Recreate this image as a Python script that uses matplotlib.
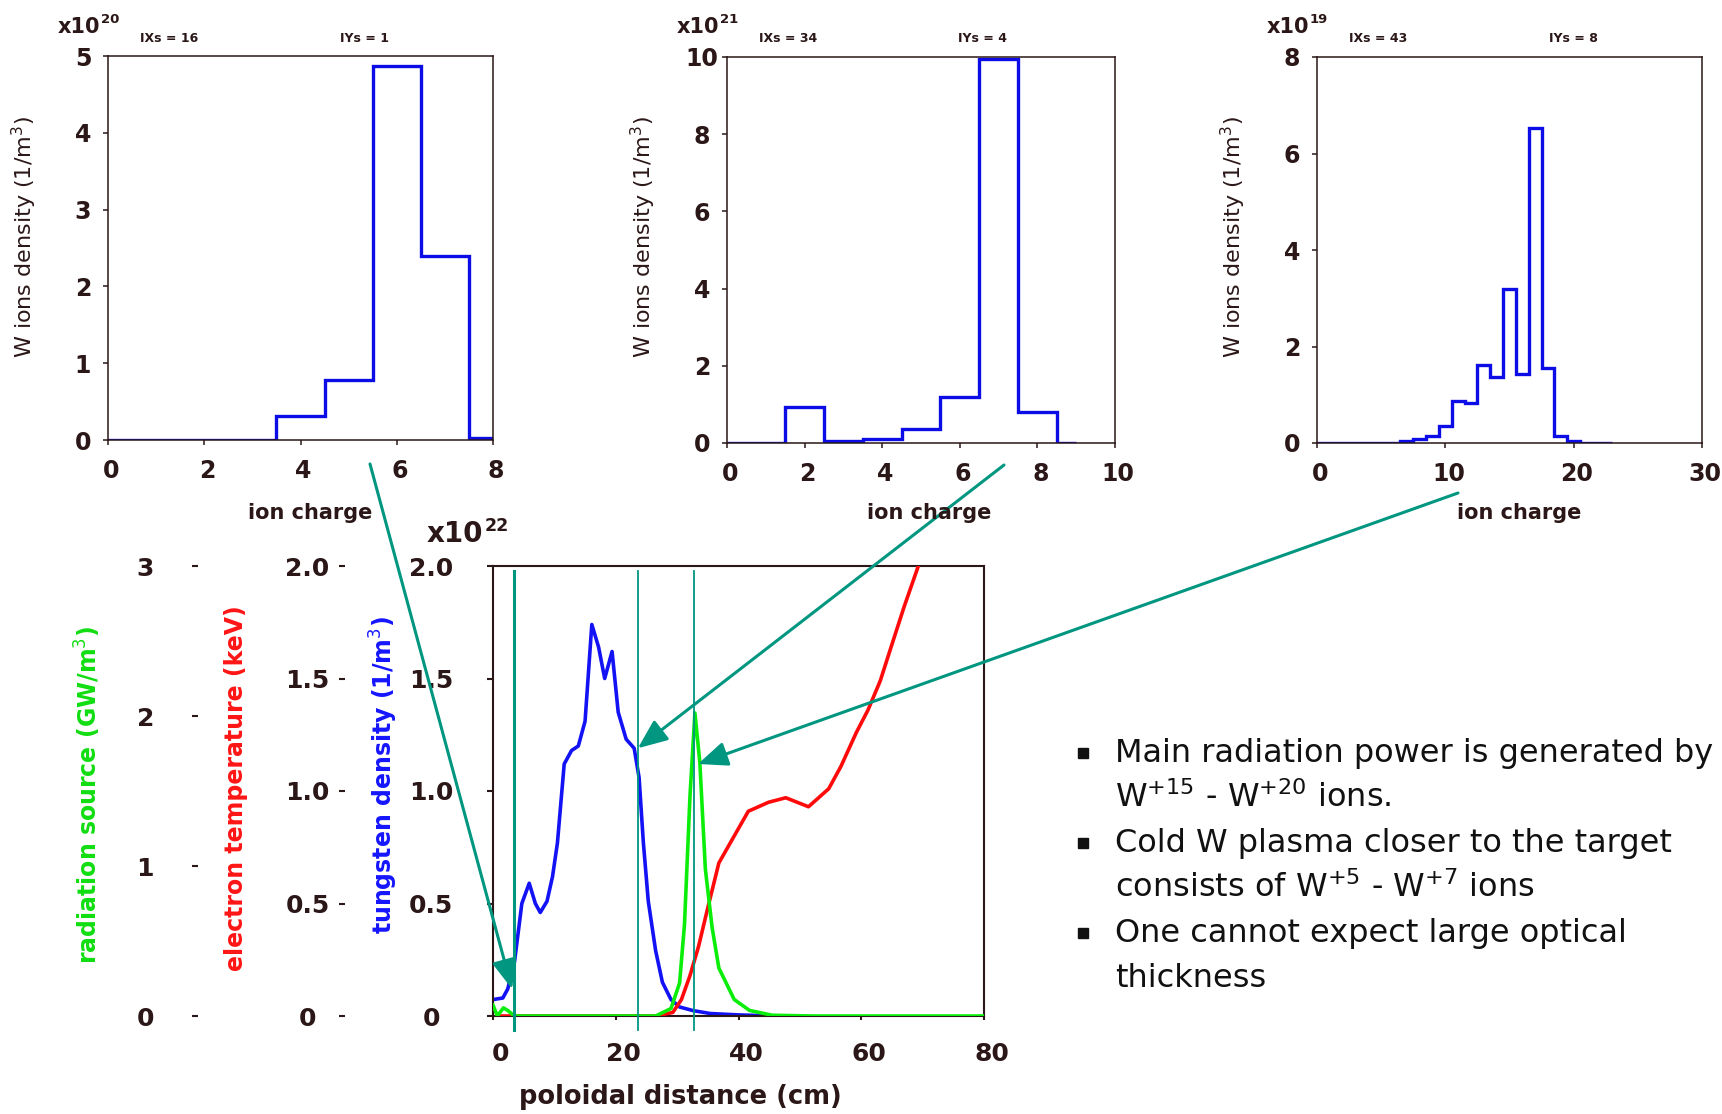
import numpy as np
import matplotlib
matplotlib.use('Agg')
import matplotlib.pyplot as plt
from matplotlib.transforms import ScaledTranslation
from matplotlib.patches import Rectangle

# ---- data ----
# top panels: W ion density per charge state (bins centred on integer charge)
p1_vals = [0.0, 0.0, 0.005, 0.005, 0.31, 0.78, 4.87, 2.39, 0.03]      # x1e20
p2_vals = [0.0, 0.0, 0.92, 0.05, 0.10, 0.37, 1.20, 9.95, 0.81, 0.01]  # x1e21
p3_vals = [0.0, 0.0, 0.0, 0.0, 0.0, 0.0, 0.01, 0.04, 0.08, 0.15, 0.36, 0.88,
           0.83, 1.61, 1.37, 3.19, 1.42, 6.53, 1.56, 0.15, 0.05, 0.01, 0.004]  # x1e19
p1_end, p2_end, p3_end = 8, 9, 23

# bottom panel
w_x = [0, 1.6, 2.4, 3.5, 4.7, 5.9, 6.9, 7.7, 8.8, 9.7, 10.5, 11.6, 12.8, 13.9, 15.0,
       16.1, 17.2, 18.2, 19.4, 20.4, 21.7, 23.0, 23.8, 24.5, 25.3, 26.5, 27.6, 29.0,
       30.4, 32.6, 35.4, 39.9, 46.0]
w_y = [0.073, 0.08, 0.12, 0.24, 0.50, 0.59, 0.50, 0.46, 0.51, 0.62, 0.77, 1.12, 1.18,
       1.20, 1.31, 1.74, 1.64, 1.50, 1.62, 1.35, 1.23, 1.19, 1.06, 0.77, 0.51, 0.29,
       0.15, 0.073, 0.04, 0.024, 0.011, 0.005, 0.0]   # x1e22 1/m^3

te_x = [1.0, 26.5, 29.3, 30.7, 32.1, 33.5, 34.9, 36.8, 39.3, 41.6, 44.9, 47.7, 51.4,
        54.7, 56.7, 59.2, 61.1, 63.1, 65.1, 67.0, 69.3, 70.7]
te_y = [0.0, 0.0, 0.016, 0.073, 0.18, 0.31, 0.47, 0.68, 0.80, 0.91, 0.95, 0.97, 0.93,
        1.01, 1.11, 1.26, 1.36, 1.49, 1.66, 1.82, 2.0, 2.12]   # keV

rad_x = [0, 0.7, 1.7, 2.4, 3.5, 26.5, 29.0, 30.4, 31.2, 32.1, 32.9, 33.7, 34.6, 35.7,
         36.8, 39.3, 41.8, 45.5, 52, 80]
rad_y = [0.073, 0.0, 0.054, 0.037, 0.0, 0.0, 0.05, 0.22, 0.61, 1.47, 2.02, 1.69, 0.98,
         0.59, 0.32, 0.11, 0.037, 0.005, 0.0, 0.0]   # GW/m^3

cut_x = [3.4, 23.6, 32.7]
cut_lw = [2.2, 1.3, 1.3]
# arrow tips (bottom panel data) for IXs = 16, 34, 43
tip_x = [3.1, 23.6, 33.4]
tip_y = [0.12, 1.19, 1.12]

notes = ['Main radiation power is generated by',
         'W$^{+15}$ - W$^{+20}$ ions.',
         'Cold W plasma closer to the target',
         'consists of W$^{+5}$ - W$^{+7}$ ions',
         'One cannot expect large optical',
         'thickness']
bullet_rows = [0, 2, 4]

W, H = 1722, 1114
fig = plt.figure(figsize=(W / 100, H / 100), dpi=100)

DARK = '#2b1717'
TEAL = '#009680'
STEP = '#0c0ce6'


def ax_px(l, t, r, b):
    return fig.add_axes([l / W, 1 - b / H, (r - l) / W, (b - t) / H])


def txt(x, y, s, **kw):
    kw.setdefault('color', DARK)
    return fig.text(x / W, 1 - y / H, s, **kw)


def centre_ylabels(a):
    for lab in a.get_yticklabels():
        lab.set_ha('center')
        lab.set_fontweight('bold')


# ---- top histograms ----
panels = [
    (p1_vals, p1_end, (108, 56, 493, 440), 8, [0, 2, 4, 6, 8], 5, range(0, 6), '20', 'IXs = 16', 'IYs = 1'),
    (p2_vals, p2_end, (727, 57, 1115, 443), 10, [0, 2, 4, 6, 8, 10], 10, range(0, 11, 2), '21', 'IXs = 34', 'IYs = 4'),
    (p3_vals, p3_end, (1317, 57, 1702, 443), 30, [0, 10, 20, 30], 8, range(0, 9, 2), '19', 'IXs = 43', 'IYs = 8'),
]

for vals, xend, box, xmax, xt, ymax, yt, expo, ixs, iys in panels:
    ax = ax_px(*box)
    n = len(vals)
    edges = np.concatenate([[0], np.arange(0.5, n - 1), [xend]])
    ax.stairs(vals, edges, baseline=None, color=STEP, lw=2.4)
    ax.set_xlim(0, xmax)
    ax.set_ylim(0, ymax)
    ax.set_xticks(xt)
    ax.set_yticks(list(yt))
    for sp in ax.spines.values():
        sp.set_color(DARK)
        sp.set_linewidth(1.1)
    ax.tick_params(direction='out', length=3.6, width=1.1, color=DARK,
                   labelsize=17, labelcolor=DARK)
    ax.tick_params(axis='x', pad=10)
    ax.tick_params(axis='y', pad=14.4)
    for lab in ax.get_xticklabels():
        lab.set_fontweight('bold')
        lab.set_transform(lab.get_transform() + ScaledTranslation(3 / 100, 0, fig.dpi_scale_trans))
    centre_ylabels(ax)

    l, t, r, b = box
    txt(l - 50, 33, 'x10', fontsize=15, fontweight='bold', ha='left', va='baseline')
    txt(l - 7, 23, expo, fontsize=9.5, fontweight='bold', ha='left', va='baseline')
    txt(l + 61, 38, ixs, fontsize=9, fontweight='bold', ha='center', va='center')
    txt(l + 256, 38, iys, fontsize=9, fontweight='bold', ha='center', va='center')
    txt(l - 84, 237, 'W ions density (1/m$^3$)', fontsize=16, rotation=90,
        ha='center', va='center')
    txt(l + 202, 513, 'ion charge', fontsize=15, fontweight='bold', ha='center', va='center')

# ---- bottom profile plot ----
L, T, R, B = 493, 566, 984, 1016
axw = ax_px(L, T, R, B)
axw.plot(w_x, w_y, color='#1212f5', lw=2.6)
axw.set_xlim(0, 80)
axw.set_ylim(0, 2)
axw.set_xticks([0, 20, 40, 60, 80])
axw.set_yticks([0, 0.5, 1.0, 1.5, 2.0])
axw.set_yticklabels(['0', '0.5', '1.0', '1.5', '2.0'])
for sp in axw.spines.values():
    sp.set_color(DARK)
    sp.set_linewidth(1.5)
axw.tick_params(axis='x', direction='out', length=3, width=1.5, color=DARK,
                labelsize=18, labelcolor=DARK, pad=16)
axw.tick_params(axis='y', direction='out', length=4.5, width=1.5, color=DARK,
                labelsize=18, labelcolor=DARK, pad=40)
for lab in axw.get_xticklabels():
    lab.set_fontweight('bold')
    lab.set_transform(lab.get_transform() + ScaledTranslation(8 / 100, 0, fig.dpi_scale_trans))
centre_ylabels(axw)

axt = axw.twinx()
axt.plot(te_x, te_y, color='#ff0a0a', lw=2.6)
axt.set_ylim(0, 2)
axt.set_yticks([0, 0.5, 1.0, 1.5, 2.0])
axt.set_yticklabels(['0', '0.5', '1.0', '1.5', '2.0'])

axr = axw.twinx()
axr.plot(rad_x, rad_y, color='#0aee0a', lw=2.6)
axr.set_ylim(0, 3)
axr.set_yticks([0, 1, 2, 3])

for a, pos, pad in [(axt, (345 - L) / (R - L), 23), (axr, (198 - L) / (R - L), 34)]:
    a.set_xlim(0, 80)
    for k in ['top', 'bottom', 'right']:
        a.spines[k].set_visible(False)
    a.spines['left'].set_visible(True)
    a.spines['left'].set_position(('axes', pos))
    a.spines['left'].set_color('none')
    a.yaxis.set_ticks_position('left')
    a.tick_params(axis='y', direction='out', length=4, width=1.5, color=DARK,
                  labelsize=18, labelcolor=DARK, pad=pad)
    centre_ylabels(a)

for xc, lw in zip(cut_x, cut_lw):
    axr.axvline(xc, ymin=-0.03, ymax=0.99, color=TEAL, lw=lw, clip_on=False)

starts = [(370, 464), (1004, 465), (1458, 493)]
for (sx, sy), tx, ty in zip(starts, tip_x, tip_y):
    axr.annotate('', xy=(tx, ty), xycoords=axw.transData,
                 xytext=(sx, H - sy), textcoords='figure pixels',
                 annotation_clip=False,
                 arrowprops=dict(arrowstyle='-|>,head_length=0.6,head_width=0.25',
                                 color=TEAL, lw=2.2, mutation_scale=30,
                                 shrinkA=0, shrinkB=0))

txt(427, 542, 'x10', fontsize=20, fontweight='bold', ha='left', va='baseline')
txt(485, 531, '22', fontsize=12.5, fontweight='bold', ha='left', va='baseline')

txt(88, 795, 'radiation source (GW/m$^3$)', color='#11dd11', fontsize=17,
    fontweight='bold', rotation=90, ha='center', va='center')
txt(236, 788, 'electron temperature (keV)', color='#ff1515', fontsize=17,
    fontweight='bold', rotation=90, ha='center', va='center')
txt(384, 775, 'tungsten density (1/m$^3$)', color='#1515ff', fontsize=17,
    fontweight='bold', rotation=90, ha='center', va='center')
txt(680, 1097, 'poloidal distance (cm)', fontsize=18.5, fontweight='bold',
    ha='center', va='center')

# ---- notes on the right ----
for i, line in enumerate(notes):
    y = 762 + 45 * i
    txt(1115, y, line, color='#111111', fontsize=23, ha='left', va='baseline')
    if i in bullet_rows:
        fig.add_artist(Rectangle((1078 / W, 1 - 758 / H - 45 * i / H), 10 / W, 10 / H,
                                 transform=fig.transFigure, color='#111111'))

fig.savefig('out.png', dpi=100)
